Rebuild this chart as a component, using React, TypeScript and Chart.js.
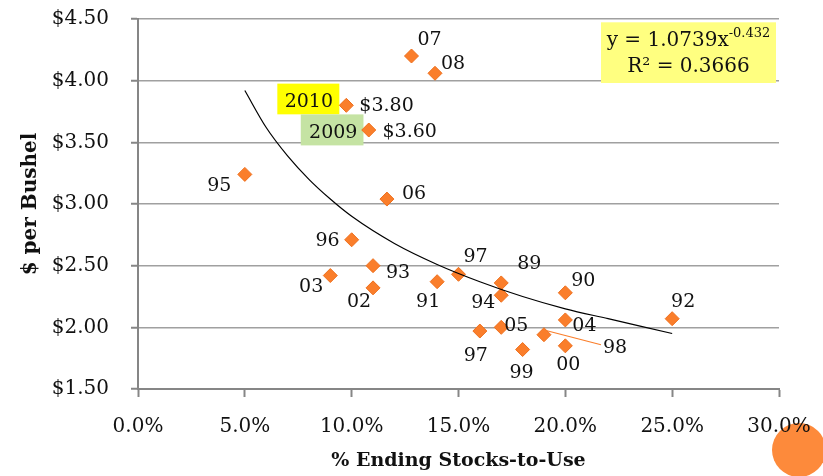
import React, { useEffect, useRef } from 'react';
import { Chart, registerables } from 'chart.js';

Chart.register(...registerables);

// ---- data ----
const years = ['07', '08', '2010', '2009', '95', '06', '96', '93', '03', '02', '91', '97', '89', '94', '90', '92', '04', '05', '97', '99', '00', '98'];
const stocksToUse = [0.128, 0.139, 0.0975, 0.108, 0.05, 0.1165, 0.10, 0.11, 0.09, 0.11, 0.14, 0.15, 0.17, 0.17, 0.20, 0.25, 0.20, 0.17, 0.16, 0.18, 0.20, 0.19];
const prices = [4.20, 4.06, 3.80, 3.60, 3.24, 3.04, 2.71, 2.50, 2.42, 2.32, 2.37, 2.43, 2.36, 2.26, 2.28, 2.07, 2.06, 2.00, 1.97, 1.82, 1.85, 1.94];

// trend curve points
const trendX = [0.05, 0.06, 0.07, 0.08, 0.09, 0.10, 0.12, 0.14, 0.16, 0.18, 0.20, 0.22, 0.25];
const trendY = [3.92, 3.62, 3.39, 3.20, 3.04, 2.90, 2.68, 2.51, 2.37, 2.25, 2.15, 2.07, 1.95];

const xTickValues = [0, 0.05, 0.10, 0.15, 0.20, 0.25, 0.30];
const yTickValues = [1.5, 2.0, 2.5, 3.0, 3.5, 4.0, 4.5];

const equationText = 'y = 1.0739x';
const equationExp = '-0.432';
const r2Text = 'R² = 0.3666';
const xTitle = '% Ending Stocks-to-Use';
const yTitle = '$ per Bushel';
const highlighted = ['2010', '2009'];

// ---- label layout (pixel offsets from each marker) ----
type Place = { dx: number; dy: number; align: CanvasTextAlign };
const placement: Place[] = [
  { dx: 6, dy: -16, align: 'left' },
  { dx: 6, dy: -9, align: 'left' },
  { dx: -37.5, dy: -3, align: 'center' },
  { dx: -35.5, dy: 3, align: 'center' },
  { dx: -25.5, dy: 12, align: 'center' },
  { dx: 15, dy: -5, align: 'left' },
  { dx: -12, dy: 1, align: 'right' },
  { dx: 13, dy: 7, align: 'left' },
  { dx: -7, dy: 12, align: 'right' },
  { dx: -14, dy: 14, align: 'center' },
  { dx: -9, dy: 20, align: 'center' },
  { dx: 17, dy: -17, align: 'center' },
  { dx: 28, dy: -19, align: 'center' },
  { dx: -18, dy: 8, align: 'center' },
  { dx: 18, dy: -12, align: 'center' },
  { dx: 11, dy: -17, align: 'center' },
  { dx: 7, dy: 6, align: 'left' },
  { dx: 3, dy: -1, align: 'left' },
  { dx: -4, dy: 25, align: 'center' },
  { dx: -1, dy: 24, align: 'center' },
  { dx: 3, dy: 19, align: 'center' },
  { dx: 59, dy: 13, align: 'left' },
];
const boxes: Record<string, { x0: number; x1: number; y0: number; y1: number; color: string }> = {
  '2010': { x0: -69, x1: -7, y0: -21.7, y1: 9, color: '#ffff00' },
  '2009': { x0: -68, x1: -5.3, y0: -15.6, y1: 15.4, color: '#c5e3a3' },
};
const priceTagPlace: Record<string, { dx: number; dy: number }> = {
  '2010': { dx: 13, dy: 1 },
  '2009': { dx: 13.7, dy: 2 },
};

const SERIF = '"DejaVu Serif", serif';
const ORANGE = '#fa7e2b';

const decorPlugin = {
  id: 'decor',
  beforeDraw(chart: any) {
    const ctx = chart.ctx;
    ctx.save();
    ctx.fillStyle = '#fd8a3b';
    ctx.beginPath();
    ctx.arc(799, 450, 27, 0, Math.PI * 2);
    ctx.fill();
    ctx.restore();
  },
  beforeDatasetsDraw(chart: any) {
    const ctx = chart.ctx;
    const meta = chart.getDatasetMeta(1);
    ctx.save();
    meta.data.forEach((pt: any, i: number) => {
      const b = boxes[years[i]];
      if (b && highlighted.includes(years[i])) {
        ctx.fillStyle = b.color;
        ctx.fillRect(pt.x + b.x0, pt.y + b.y0, b.x1 - b.x0, b.y1 - b.y0);
      }
    });
    // leader line for 98
    const i98 = years.lastIndexOf('98');
    const p = meta.data[i98];
    ctx.strokeStyle = ORANGE;
    ctx.lineWidth = 1.2;
    ctx.beginPath();
    ctx.moveTo(p.x + 3, p.y - 4);
    ctx.lineTo(p.x + 57, p.y + 10);
    ctx.stroke();
    ctx.restore();
  },
  afterDatasetsDraw(chart: any) {
    const ctx = chart.ctx;
    const meta = chart.getDatasetMeta(1);
    const area = chart.chartArea;
    ctx.save();
    ctx.fillStyle = '#111';
    ctx.textBaseline = 'middle';
    ctx.font = `19px ${SERIF}`;
    meta.data.forEach((pt: any, i: number) => {
      const pl = placement[i];
      ctx.textAlign = pl.align;
      ctx.fillText(years[i], pt.x + pl.dx, pt.y + pl.dy);
      const tag = priceTagPlace[years[i]];
      if (tag) {
        ctx.textAlign = 'left';
        ctx.fillText('$' + prices[i].toFixed(2), pt.x + tag.dx, pt.y + tag.dy);
      }
    });

    // equation box
    const bx0 = area.right - 178;
    const bx1 = area.right - 3;
    const by0 = area.top + 3.3;
    const by1 = area.top + 64;
    ctx.fillStyle = '#ffff80';
    ctx.fillRect(bx0, by0, bx1 - bx0, by1 - by0);
    const cx = (bx0 + bx1) / 2;
    ctx.fillStyle = '#111';
    ctx.font = `20px ${SERIF}`;
    const w1 = ctx.measureText(equationText).width;
    ctx.font = `13px ${SERIF}`;
    const w2 = ctx.measureText(equationExp).width;
    const startX = cx - (w1 + w2) / 2;
    ctx.textAlign = 'left';
    ctx.font = `20px ${SERIF}`;
    ctx.fillText(equationText, startX, area.top + 22);
    ctx.font = `13px ${SERIF}`;
    ctx.fillText(equationExp, startX + w1, area.top + 15);
    ctx.font = `20px ${SERIF}`;
    ctx.textAlign = 'center';
    ctx.fillText(r2Text, cx, area.top + 48);

    // axis titles
    ctx.font = `bold 19px ${SERIF}`;
    ctx.textAlign = 'center';
    ctx.fillText(xTitle, (area.left + area.right) / 2, 461);
    ctx.font = `bold 20px ${SERIF}`;
    ctx.translate(31, (area.top + area.bottom) / 2);
    ctx.rotate(-Math.PI / 2);
    ctx.fillText(yTitle, 0, 0);
    ctx.restore();
  },
};

export default function App() {
  const ref = useRef<HTMLCanvasElement | null>(null);
  useEffect(() => {
    document.body.style.margin = '0';
    const canvas = ref.current!;
    const chart = new Chart(canvas, {
      type: 'scatter',
      data: {
        datasets: [
          {
            type: 'line',
            data: trendX.map((x, i) => ({ x, y: trendY[i] })),
            borderColor: '#000',
            borderWidth: 1.2,
            pointRadius: 0,
            tension: 0.4,
            cubicInterpolationMode: 'monotone',
            fill: false,
          } as any,
          {
            data: stocksToUse.map((x, i) => ({ x, y: prices[i] })),
            pointStyle: 'rectRot',
            pointRadius: 7,
            backgroundColor: ORANGE,
            borderColor: '#ee6f1c',
            borderWidth: 1,
          },
        ],
      },
      options: {
        responsive: false,
        animation: false,
        layout: { padding: { left: 0, right: 44, top: 19, bottom: 0 } },
        plugins: { legend: { display: false }, tooltip: { enabled: false } },
        scales: {
          x: {
            type: 'linear',
            min: 0,
            max: 0.3,
            afterBuildTicks: (s: any) => { s.ticks = xTickValues.map((v) => ({ value: v })); },
            afterFit: (s: any) => { s.height = 87; s.paddingRight = 0; s.paddingLeft = 0; },
            ticks: {
              callback: (v: any) => (Number(v) * 100).toFixed(1) + '%',
              font: { family: SERIF, size: 20 },
              color: '#111',
              padding: 18,
              maxRotation: 0,
            },
            grid: { drawOnChartArea: false, tickLength: 8, tickColor: '#868686', tickWidth: 2 },
            border: { color: '#868686', width: 2 },
          },
          y: {
            min: 1.5,
            max: 4.5,
            afterBuildTicks: (s: any) => { s.ticks = yTickValues.map((v) => ({ value: v })); },
            afterFit: (s: any) => { s.width = 138; s.paddingTop = 0; s.paddingBottom = 0; },
            ticks: {
              callback: (v: any) => '$' + Number(v).toFixed(2),
              font: { family: SERIF, size: 20 },
              color: '#111',
              padding: 22,
            },
            grid: { color: '#a0a0a0', lineWidth: 1.5, tickLength: 7, tickColor: '#868686', tickWidth: 2 },
            border: { color: '#868686', width: 2 },
          },
        },
      },
      plugins: [decorPlugin],
    });
    return () => chart.destroy();
  }, []);
  return (
    <div style={{ position: 'relative', width: 823, height: 476 }}>
      <canvas ref={ref} width={823} height={476} style={{ display: 'block' }} />
    </div>
  );
}
